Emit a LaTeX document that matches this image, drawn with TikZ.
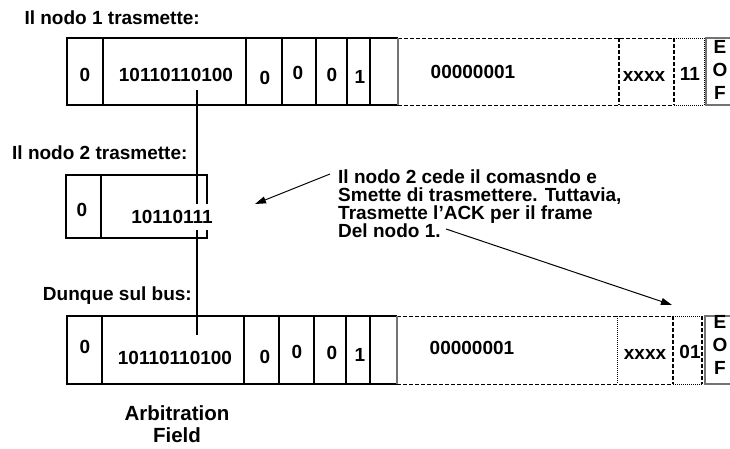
\documentclass[tikz,border=0pt]{standalone}
\usepackage{fontspec}
\setmainfont{Liberation Sans}
\usetikzlibrary{arrows.meta}
\newcommand\mytightls{\lineskiplimit=-20pt\relax\lineskip=0pt\relax}
\begin{document}
\begin{tikzpicture}[x=1pt,y=-1pt,
  txt/.style={font=\fontsize{19}{19}\selectfont\bfseries, inner sep=0pt},
  eof/.style={font=\fontsize{19}{23}\selectfont\bfseries, inner sep=0pt, align=center},
  frm/.style={black, line width=1.1pt},
  gryl/.style={black!55, line width=1.6pt},
  dsh/.style={black, line width=1pt, dash pattern=on 4pt off 2pt},
  tdsh/.style={black, line width=2pt, dash pattern=on 4pt off 2pt},
  dtt/.style={black, line width=1pt, dash pattern=on 1pt off 1pt},
  arr/.style={black, line width=1pt, -{Triangle[length=11pt,width=7pt]}}]
\useasboundingbox (0,0) rectangle (730,448);

% ---------- top frame ----------
\draw[frm] (398,38) -- (67,38) -- (67,105) -- (398,105);
\foreach \x in {103,246,282,316,347,370} \draw[frm] (\x,38) -- (\x,105);
\draw[dsh] (398,38) -- (674,38);
\draw[dsh] (398,105) -- (674,105);
\draw[dtt] (674,38) -- (704,38);
\draw[dtt] (674,105) -- (704,105);
\draw[tdsh] (619,38) -- (619,105);
\draw[tdsh] (674,38) -- (674,105);
\draw[dtt] (704,38) -- (704,105);
\draw[gryl] (398,38) -- (398,105);
\draw[gryl] (734,38) -- (706,38) -- (706,105) -- (734,105);

% ---------- bottom frame ----------
\draw[frm] (397,316) -- (67,316) -- (67,384) -- (397,384);
\foreach \x in {102,244,279,314,346,370} \draw[frm] (\x,316) -- (\x,384);
\draw[dsh] (397,316) -- (673,316);
\draw[dsh] (397,384) -- (673,384);
\draw[dtt] (673,316) -- (703,316);
\draw[dtt] (673,384) -- (703,384);
\draw[dtt] (617,316) -- (617,384);
\draw[tdsh] (673,316) -- (673,384);
\draw[tdsh] (702,316) -- (702,384);
\draw[gryl] (397,316) -- (397,384);
\draw[gryl] (734,316) -- (705,316) -- (705,384) -- (734,384);

% ---------- node 2 box ----------
\draw[frm] (66,175) rectangle (207,238);
\draw[frm] (101,175) -- (101,238);

% ---------- vertical alignment line ----------
\coordinate (vt) at (197,90);
\coordinate (vb) at (197,335);
\draw[frm] (vt) -- (vb);

% ---------- labels ----------
\node[txt, anchor=east] (l1) at (200,18) {Il nodo 1 trasmette:};
\node[txt, anchor=west] (l2) at (12,153) {Il nodo 2 trasmette:};
\node[txt, anchor=east] (l3) at (192,296) {Dunque sul bus:};

% top cells
\node[txt] (a0) at (85,75) {0};
\node[txt] (a1) at (176,75) {10110110100};
\node[txt] (a2) at (265,78) {0};
\node[txt] (a3) at (298,73) {0};
\node[txt] (a4) at (332,75) {0};
\node[txt] (a5) at (360,77) {1};
\node[txt] (a6) at (473,72) {00000001};
\node[txt] (a7) at (644,76) {xxxx};
\node[txt] (a8) at (690,74) {11};
\node[eof] (a9) at (720,70) {E\\O\\F};

% node 2 cells
\node[txt] (c0) at (82,210) {0};
\node[txt, fill=white, inner ysep=6pt] (c1) at (172,217) {10110111};

% bottom cells
\node[txt] (b0) at (85,347) {0};
\node[txt] (b1) at (175,358) {10110110100};
\node[txt] (b2) at (265,357) {0};
\node[txt] (b3) at (297,352) {0};
\node[txt] (b4) at (332,353) {0};
\node[txt] (b5) at (360,355) {1};
\node[txt] (b6) at (472,348) {00000001};
\node[txt] (b7) at (645,354) {xxxx};
\node[txt] (b8) at (690,352) {01};
\node[eof] (b9) at (720,345) {E\\O\\F};

% callout
\node[font=\fontsize{19}{18}\selectfont\bfseries\mytightls, inner sep=0pt, align=left, anchor=north west] (cm) at (338,170)
  {Il nodo 2 cede il comasndo e\\Smette di trasmettere. Tuttavia,\\Trasmette l’ACK per il frame\\Del nodo 1.};
\coordinate (p1s) at (330,174);
\coordinate (p1e) at (255,204);
\coordinate (p2s) at (446,229);
\coordinate (p2e) at (672,305);
\draw[arr] (p1s) -- (p1e);
\draw[arr] (p2s) -- (p2e);

% arbitration field
\node[font=\fontsize{20.5}{22}\selectfont\bfseries, inner sep=0pt, align=center] (af) at (177,424) {Arbitration\\Field};
\end{tikzpicture}
\end{document}
